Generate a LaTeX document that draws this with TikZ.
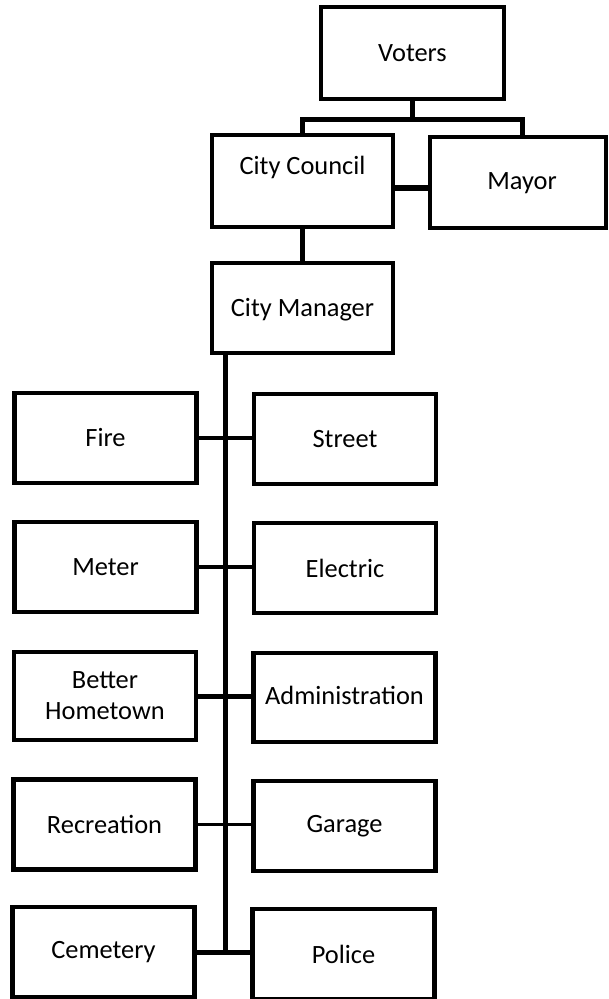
\documentclass[tikz,border=0pt]{standalone}
\usepackage{fontspec}
\setmainfont{Carlito}
\usetikzlibrary{calc}
\tikzset{
  box/.style={draw=black, line width=4.2pt, rectangle, inner sep=0pt, align=center,
              minimum width=182pt, minimum height=90pt, font=\fontsize{26.4}{31}\selectfont},
  lbl/.style={inner sep=0pt, align=center, font=\fontsize{26.4}{31}\selectfont},
  thinc/.style={draw=black, line width=3.6pt},
  thickc/.style={draw=black, line width=5pt},
}
\begin{document}
\begin{tikzpicture}[x=1pt,y=-1pt]
\useasboundingbox (0,0) rectangle (608,999);
% top
\node[box, minimum width=183pt, minimum height=92pt] (vot) at (412.5,53) {Voters};
\node[box, minimum width=181pt, minimum height=92pt] (cc) at (302.5,181) {};
\node[lbl] (cct) at (302.5,167) {City Council};
\node[box, minimum width=176pt, minimum height=91pt] (may) at (518,182.5) {};
\node[lbl] (mayt) at (522,183) {Mayor};
\node[box, minimum width=181pt, minimum height=90pt] (mgr) at (302.5,308) {};
\node[lbl] (mgrt) at (302.5,310) {City Manager};
% departments
\node[box] (fire)   at (105.5,438)   {Fire};
\node[box] (street) at (345,439)     {Street};
\node[box] (meter)  at (105.5,567)   {Meter};
\node[box] (elec)   at (345,568)     {Electric};
\node[box, minimum height=88pt] (bet) at (105,696) {Better\\Hometown};
\node[box, minimum height=89pt] (adm) at (344.5,697.5) {};
\node[lbl] (admt) at (344.5,695) {Administration};
\node[box] (rec)    at (104.5,824.5) {Recreation};
\node[box] (gar)    at (344.5,826)   {Garage};
\node[box] (cem)    at (103.5,952)   {Cemetery};
\node[box] (pol)    at (343.5,954)   {Police};
% top connectors
\draw[thickc] (vot.south) -- ++(0,18) coordinate (vj);
\draw[thickc] (cc.north) |- (vj);
\draw[thickc] ([xshift=4pt]may.north) |- (vj);
\draw[line width=5.5pt] ([yshift=-7pt]cc.east) -- ([yshift=-7pt]cc.east -| may.west);
\draw[thickc] (cc.south) -- (mgr.south |- mgr.north);
% trunk
\coordinate (tt) at ([xshift=16pt]mgr.south west);
\coordinate (tb) at (tt |- cem.east);
\draw[thickc] (tt) -- (tb);
% rows
\draw[thinc] (fire.east) -- (fire.east -| street.west);
\draw[thinc] (meter.east) -- (meter.east -| elec.west);
\draw[thickc] (bet.east) -- (bet.east -| adm.west);
\draw[thinc] (rec.east) -- (rec.east -| gar.west);
\draw[thickc] (cem.east) -- (cem.east -| pol.west);
\end{tikzpicture}
\end{document}
